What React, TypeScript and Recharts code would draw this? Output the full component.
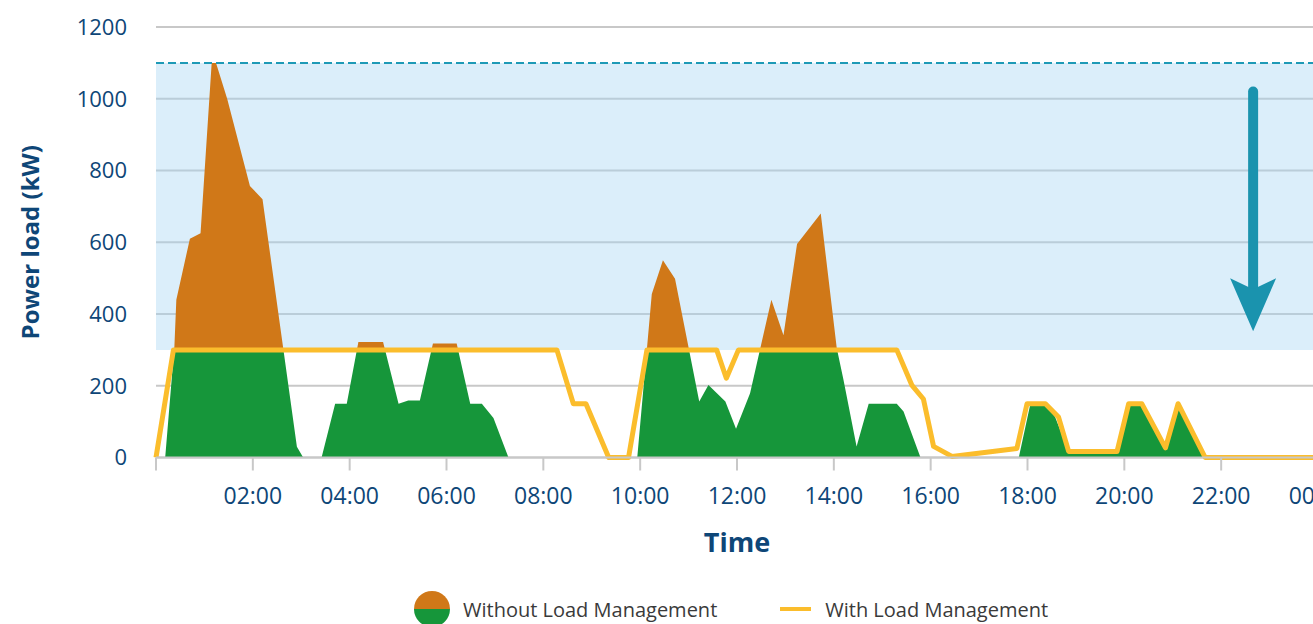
import {
  ComposedChart,
  Area,
  Line,
  XAxis,
  YAxis,
  CartesianGrid,
  ReferenceArea,
  ReferenceLine,
  ReferenceDot,
  Legend,
} from 'recharts';

// hours of day for the unmanaged load (green/orange area)
const withoutHours = [
  0, 0.19, 0.38, 0.42, 0.7, 0.92, 1.15, 1.24, 1.47, 1.94, 2.2, 2.91, 3.04, 3.42,
  3.7, 3.94, 4.18, 4.69, 5.01, 5.21, 5.45, 5.72, 6.21, 6.49, 6.73, 6.97, 7.28,
  9.94, 10.24, 10.47, 10.72, 11.22, 11.41, 11.76, 11.98, 12.27, 12.71, 12.96,
  13.24, 13.73, 14.06, 14.2, 14.47, 14.72, 15.3, 15.44, 15.79, 17.82, 18.06,
  18.37, 18.57, 18.85, 19.85, 20.09, 20.36, 20.85, 21.11, 21.64, 24,
];
const withoutKw = [
  0, 0, 310, 440, 610, 625, 1100, 1100, 1000, 757, 720, 30, 0, 0,
  150, 150, 322, 322, 150, 159, 159, 318, 318, 150, 150, 110, 0,
  0, 456, 550, 498, 156, 202, 156, 80, 179, 440, 341,
  595, 680, 305, 216, 31, 150, 150, 128, 0, 0, 150,
  150, 113, 17, 17, 150, 150, 27, 150, 0, 0,
];

// managed load (yellow line)
const withHours = [
  0, 0.36, 8.28, 8.62, 8.88, 9.35, 9.76, 10.14, 11.58, 11.78, 12.03, 15.3,
  15.61, 15.85, 16.06, 16.44, 17.78, 17.99, 18.37, 18.64, 18.85, 19.85, 20.09,
  20.36, 20.85, 21.11, 21.67, 24,
];
const withKw = [
  0, 300, 300, 150, 150, 0, 0, 300, 300, 221, 300, 300,
  202, 163, 31, 3, 25, 150, 150, 113, 17, 17, 150,
  150, 27, 150, 0, 0,
];

const xTicks = [0, 2, 4, 6, 8, 10, 12, 14, 16, 18, 20, 22, 24];
const yTicks = [0, 200, 400, 600, 800, 1000, 1200];

const THRESHOLD = 300;
const PEAK_LIMIT = 1100;

const withoutData = withoutHours.map((h, i) => ({ h, kw: withoutKw[i] }));
const withData = withHours.map((h, i) => ({ h, kw: withKw[i] }));

const maxKw = Math.max(...withoutKw);
const splitOffset = (maxKw - THRESHOLD) / maxKw;

const NAVY = '#0e4677';
const FONT = '"Open Sans", "Noto Sans", sans-serif';

const fmtHour = (h: number) =>
  h === 0 ? '' : `${String(h % 24).padStart(2, '0')}:00`;

function LegendContent() {
  return (
    <div
      style={{
        display: 'flex',
        alignItems: 'center',
        height: 56,
        paddingLeft: 414,
        paddingTop: 26,
        fontFamily: FONT,
        fontSize: 20,
        color: '#3a3a3a',
        boxSizing: 'border-box',
      }}
    >
      <svg width={36} height={36} style={{ marginRight: 13 }}>
        <path d="M0,18 A18,18 0 0 1 36,18 Z" fill="#d07818" />
        <path d="M0,18 A18,18 0 0 0 36,18 Z" fill="#16963a" />
      </svg>
      <span>Without Load Management</span>
      <svg width={31} height={6} style={{ marginLeft: 63, marginRight: 14 }}>
        <line x1={0} y1={3} x2={31} y2={3} stroke="#fbbd2c" strokeWidth={4} />
      </svg>
      <span>With Load Management</span>
    </div>
  );
}

export default function App() {
  return (
    <div
      style={{
        position: 'fixed',
        left: 0,
        top: 0,
        width: 1313,
        height: 624,
        overflow: 'hidden',
        background: '#fff',
      }}
    >
      <ComposedChart
        width={1362}
        height={624}
        margin={{ top: 27, right: 44, left: 0, bottom: 0 }}
      >
        <defs>
          <linearGradient id="splitFill" x1="0" y1="0" x2="0" y2="1">
            <stop offset={0} stopColor="#d07818" />
            <stop offset={splitOffset} stopColor="#d07818" />
            <stop offset={splitOffset} stopColor="#16963a" />
            <stop offset={1} stopColor="#16963a" />
          </linearGradient>
        </defs>
        <CartesianGrid vertical={false} stroke="#c8c8c8" strokeWidth={2} />
        <ReferenceArea
          y1={THRESHOLD}
          y2={PEAK_LIMIT}
          fill="#a5d4f2"
          fillOpacity={0.4}
          stroke="none"
        />
        <ReferenceLine
          y={PEAK_LIMIT}
          stroke="#1e9ab6"
          strokeWidth={2}
          strokeDasharray="8 4"
        />
        <XAxis
          dataKey="h"
          type="number"
          domain={[0, 24]}
          ticks={xTicks}
          tickFormatter={fmtHour}
          height={110.5}
          tickSize={13}
          tickMargin={17}
          tickLine={{ stroke: '#c8c8c8', strokeWidth: 2 }}
          axisLine={{ stroke: '#c8c8c8', strokeWidth: 2 }}
          tick={{ fill: NAVY, fontSize: 23, fontFamily: FONT }}
          interval={0}
          label={{
            value: 'Time',
            position: 'insideBottom',
            offset: 16,
            fill: NAVY,
            fontSize: 27,
            fontWeight: 700,
            fontFamily: FONT,
          }}
        />
        <YAxis
          domain={[0, 1200]}
          ticks={yTicks}
          width={156}
          tickLine={false}
          axisLine={false}
          tickSize={0}
          tickMargin={29}
          tick={{ fill: NAVY, fontSize: 22, fontFamily: FONT }}
          label={{
            value: 'Power load (kW)',
            angle: -90,
            position: 'insideLeft',
            offset: 30,
            fill: NAVY,
            fontSize: 24,
            fontWeight: 700,
            fontFamily: FONT,
            style: { textAnchor: 'middle' },
          }}
        />
        <Area
          data={withoutData}
          dataKey="kw"
          type="linear"
          stroke="none"
          fill="url(#splitFill)"
          fillOpacity={1}
          isAnimationActive={false}
        />
        <Line
          data={withData}
          dataKey="kw"
          type="linear"
          stroke="#fbbd2c"
          strokeWidth={5}
          strokeLinejoin="round"
          dot={false}
          activeDot={false}
          isAnimationActive={false}
        />
        <ReferenceLine
          segment={[
            { x: 22.66, y: 1020 },
            { x: 22.66, y: 470 },
          ]}
          stroke="#1a93ae"
          strokeWidth={10}
          strokeLinecap="round"
        />
        <ReferenceDot
          x={22.66}
          y={352}
          r={1}
          shape={(p: any) => (
            <polygon
              points={`${p.cx},${p.cy} ${p.cx - 23},${p.cy - 53} ${p.cx},${p.cy - 42} ${p.cx + 23},${p.cy - 53}`}
              fill="#1a93ae"
            />
          )}
        />
        <Legend
          verticalAlign="bottom"
          height={56}
          wrapperStyle={{ left: 0, width: 1313 }}
          content={() => <LegendContent />}
        />
      </ComposedChart>
    </div>
  );
}
